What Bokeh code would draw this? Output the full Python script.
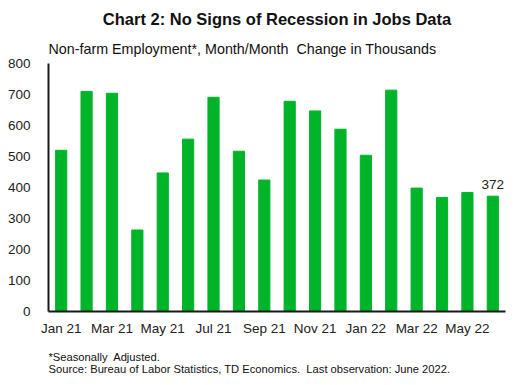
from bokeh.plotting import figure
from bokeh.models import Label, FixedTicker, ColumnDataSource, Range1d, Title
from bokeh.embed import file_html
from bokeh.resources import INLINE

months = ["Jan 21", "Feb 21", "Mar 21", "Apr 21", "May 21", "Jun 21", "Jul 21", "Aug 21",
          "Sep 21", "Oct 21", "Nov 21", "Dec 21", "Jan 22", "Feb 22", "Mar 22", "Apr 22",
          "May 22", "Jun 22"]
values = [520, 710, 704, 263, 447, 556, 691, 517, 424, 678, 647, 588, 504, 714, 398, 368, 384, 372]
y_ticks = [0, 100, 200, 300, 400, 500, 600, 700, 800]

FONT = "Liberation Sans"
GREEN = "#00b42a"
NB = "\u00a0"

xs = list(range(len(months)))
src = ColumnDataSource(dict(x=xs, v=values))

p = figure(width=517, height=385, output_backend="svg", toolbar_location=None, title=None,
           x_range=Range1d(-0.5, len(months) - 0.5), y_range=Range1d(0, 800),
           min_border_left=48, min_border_right=12, min_border_top=63, min_border_bottom=73)
p.vbar(x="x", top="v", width=0.44, source=src, color=GREEN)

p.xgrid.visible = False
p.ygrid.visible = False
p.outline_line_color = None

p.xaxis.ticker = FixedTicker(ticks=xs[::2])
p.xaxis.major_label_overrides = {i: months[i] for i in xs}
p.yaxis.ticker = FixedTicker(ticks=y_ticks)
for ax in (p.xaxis[0], p.yaxis[0]):
    ax.major_tick_line_color = None
    ax.minor_tick_line_color = None
    ax.axis_line_color = "#1a1a1a"
    ax.major_label_text_font = FONT
    ax.major_label_text_font_size = "13.5px"
    ax.major_label_text_color = "#222222"
p.xaxis.axis_line_width = 2
p.yaxis.axis_line_width = 2
p.xaxis.major_label_standoff = 3
p.yaxis.major_label_standoff = 12

last = len(values) - 1
p.add_layout(Label(x=xs[last], y=values[last], text=str(values[last]), text_align="center",
                   text_baseline="bottom", y_offset=7, text_font=FONT, text_font_size="13.5px",
                   text_color="#222222"))

def title(text, size, where, align="left", bold=False, standoff=4, offset=0):
    p.add_layout(Title(text=text, text_font=FONT, text_font_size=size, align=align,
                       text_font_style="bold" if bold else "normal", text_color="#111111",
                       standoff=standoff, offset=offset), where)

title("Non-farm Employment*, Month/Month" + NB + " Change in Thousands", "14.3px", "above", standoff=14)
title("Chart 2: No Signs of Recession in Jobs Data", "16.5px", "above", align="center", bold=True,
      standoff=8, offset=-14)
title("*Seasonally" + NB + " Adjusted.\n"
      "Source: Bureau of Labor Statistics, TD Economics." + NB + " Last observation: June 2022.",
      "11.2px", "below", standoff=21)

open("out.html", "w").write(file_html(p, INLINE))
